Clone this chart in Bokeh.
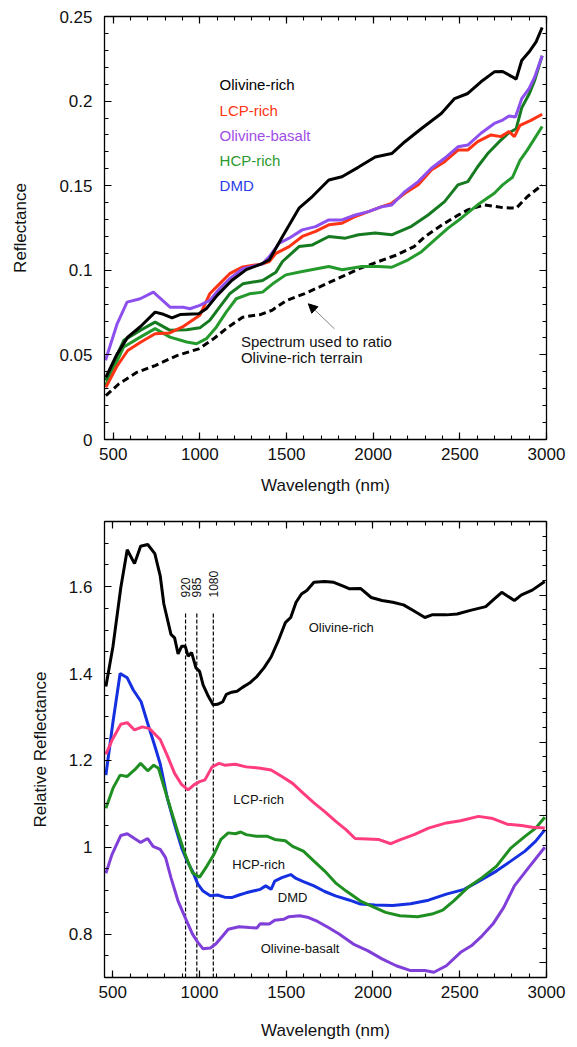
from bokeh.plotting import figure
from bokeh.layouts import column
from bokeh.models import (Range1d, LinearAxis, SingleIntervalTicker, CustomJSTickFormatter,
                          Arrow, NormalHead)
from bokeh.core.properties import value
from bokeh.embed import file_html
from bokeh.resources import INLINE
import math

FONT = "Liberation Sans"

# ---------------- Top panel data (reflectance) ----------------
oliv_rich_wl = [458, 520, 584, 658, 742, 790, 840, 889, 994, 1037, 1100, 1184, 1268, 1352, 1401, 1477,
                1572, 1649, 1744, 1820, 1916, 2012, 2107, 2183, 2279, 2393, 2470, 2546, 2622, 2699,
                2747, 2800, 2825, 2857, 2899, 2940, 2975]
oliv_rich_r = [0.0368, 0.050, 0.0605, 0.0668, 0.0753, 0.074, 0.0719, 0.0739, 0.0743, 0.0773, 0.0852,
               0.094, 0.1004, 0.1036, 0.1062, 0.120, 0.1367, 0.1436, 0.1534, 0.1553, 0.161, 0.167,
               0.169, 0.176, 0.1838, 0.1927, 0.2015, 0.2045, 0.2114, 0.2173, 0.2175, 0.2145, 0.213,
               0.224, 0.229, 0.235, 0.2435]

lcp_wl = [458, 520, 584, 658, 742, 826, 900, 942, 1000, 1057, 1114, 1172, 1248, 1362, 1401, 1439,
          1515, 1591, 1668, 1744, 1820, 1897, 1973, 2050, 2107, 2183, 2260, 2336, 2412, 2489, 2546,
          2603, 2680, 2737, 2784, 2815, 2847, 2910, 2975]
lcp_r = [0.0308, 0.043, 0.0526, 0.0575, 0.0625, 0.063, 0.0665, 0.0694, 0.0734, 0.0861, 0.092, 0.098,
         0.102, 0.1038, 0.1052, 0.110, 0.114, 0.12, 0.123, 0.1269, 0.1278, 0.1318, 0.1347, 0.1376,
         0.1396, 0.1455, 0.1505, 0.1593, 0.1642, 0.1711, 0.1711, 0.176, 0.18, 0.179, 0.182, 0.179,
         0.1857, 0.1886, 0.1922]

obas_wl = [456, 523, 580, 656, 732, 828, 904, 943, 1000, 1057, 1114, 1172, 1248, 1362, 1401, 1458,
           1515, 1591, 1668, 1744, 1820, 1897, 1973, 2050, 2107, 2183, 2260, 2336, 2412, 2489, 2546,
           2622, 2699, 2747, 2784, 2821, 2857, 2899, 2931, 2975]
obas_r = [0.0468, 0.0684, 0.0812, 0.0832, 0.0871, 0.0782, 0.0782, 0.0773, 0.0793, 0.0822, 0.0891,
          0.095, 0.1009, 0.1038, 0.1081, 0.116, 0.119, 0.1239, 0.1258, 0.1298, 0.1298, 0.1327,
          0.1347, 0.1376, 0.1386, 0.1465, 0.1524, 0.1603, 0.1662, 0.173, 0.174, 0.181, 0.1868,
          0.1888, 0.1912, 0.1906, 0.2014, 0.2073, 0.214, 0.2268]

hcp_wl = [456, 561, 656, 742, 828, 924, 1000, 1057, 1114, 1172, 1248, 1362, 1439, 1477, 1572, 1649,
          1744, 1840, 1916, 2012, 2107, 2221, 2317, 2412, 2489, 2546, 2603, 2661, 2737, 2780, 2825,
          2857, 2899, 2931, 2975]
hcp_r = [0.035, 0.0586, 0.0645, 0.0694, 0.0645, 0.0649, 0.066, 0.0704, 0.0782, 0.0861, 0.092, 0.094,
         0.0989, 0.1052, 0.114, 0.115, 0.12, 0.119, 0.121, 0.122, 0.121, 0.126, 0.1327, 0.1406,
         0.1505, 0.1524, 0.1612, 0.169, 0.177, 0.181, 0.1837, 0.196, 0.204, 0.212, 0.2268]

dmd_wl = [456, 561, 656, 742, 828, 924, 981, 1038, 1095, 1152, 1210, 1286, 1362, 1420, 1496, 1591,
          1744, 1821, 1935, 2031, 2107, 2202, 2279, 2355, 2432, 2508, 2603, 2699, 2747, 2804, 2847,
          2889, 2975]
dmd_r = [0.032, 0.0547, 0.0605, 0.0655, 0.0605, 0.0576, 0.0566, 0.0596, 0.0664, 0.0753, 0.0832,
         0.0861, 0.0871, 0.092, 0.0973, 0.0993, 0.1022, 0.1003, 0.1022, 0.1022, 0.1018, 0.1062,
         0.111, 0.118, 0.1249, 0.1308, 0.1387, 0.1455, 0.1505, 0.155, 0.165, 0.171, 0.185]

ratio_wl = [458, 532, 637, 742, 868, 994, 1079, 1163, 1247, 1352, 1415, 1500, 1605, 1710, 1836, 1920,
            2026, 2131, 2236, 2300, 2400, 2480, 2546, 2642, 2750, 2825, 2889, 2975]
ratio_r = [0.0259, 0.0328, 0.0397, 0.0437, 0.0496, 0.0536, 0.0595, 0.0664, 0.0723, 0.0739, 0.0763,
           0.0822, 0.0862, 0.0911, 0.097, 0.101, 0.105, 0.1089, 0.114, 0.12, 0.127, 0.132, 0.1357,
           0.1387, 0.137, 0.1367, 0.1435, 0.1504]

top_names = ["Olivine-rich", "LCP-rich", "Olivine-basalt", "HCP-rich", "DMD"]
top_note = ["Spectrum used to ratio", "Olivine-rich terrain"]

# ---------------- Bottom panel data (relative reflectance) ----------------
b_oliv_wl = [461, 502, 547, 584, 626, 661, 702, 743, 774, 795, 836, 857, 877, 898, 918, 935, 955, 980,
             1001, 1021, 1052, 1079, 1104, 1135, 1155, 1186, 1217, 1248, 1289, 1331, 1372, 1413, 1454,
             1495, 1526, 1557, 1588, 1619, 1660, 1722, 1774, 1825, 1866, 1928, 1990, 2052, 2114, 2176,
             2237, 2299, 2340, 2423, 2485, 2567, 2650, 2680, 2742, 2815, 2856, 2918, 2990]
b_oliv_r = [1.370, 1.463, 1.598, 1.685, 1.653, 1.693, 1.697, 1.676, 1.625, 1.560, 1.490, 1.482, 1.445,
            1.463, 1.463, 1.440, 1.448, 1.413, 1.405, 1.374, 1.347, 1.328, 1.329, 1.335, 1.352, 1.357,
            1.359, 1.368, 1.378, 1.393, 1.413, 1.438, 1.475, 1.517, 1.529, 1.564, 1.583, 1.591, 1.610,
            1.612, 1.610, 1.602, 1.595, 1.596, 1.575, 1.568, 1.564, 1.558, 1.544, 1.529, 1.535, 1.535,
            1.537, 1.546, 1.554, 1.565, 1.587, 1.568, 1.581, 1.592, 1.612]

b_dmd_wl = [461, 502, 543, 584, 619, 664, 702, 743, 774, 815, 857, 898, 929, 960, 991, 1021, 1063, 1104,
            1145, 1186, 1228, 1269, 1310, 1351, 1382, 1413, 1434, 1475, 1526, 1557, 1599, 1660, 1722,
            1784, 1866, 1928, 2011, 2114, 2217, 2320, 2423, 2526, 2629, 2711, 2794, 2876, 2938, 2990]
b_dmd_r = [1.166, 1.289, 1.400, 1.390, 1.362, 1.335, 1.285, 1.233, 1.192, 1.113, 1.052, 0.998, 0.968,
           0.945, 0.915, 0.899, 0.888, 0.890, 0.885, 0.884, 0.890, 0.895, 0.899, 0.903, 0.911, 0.903,
           0.922, 0.930, 0.937, 0.928, 0.921, 0.911, 0.898, 0.888, 0.878, 0.869, 0.867, 0.866, 0.870,
           0.878, 0.892, 0.903, 0.926, 0.945, 0.968, 0.991, 1.014, 1.040]

b_lcp_wl = [461, 496, 547, 584, 626, 671, 712, 774, 815, 857, 898, 935, 970, 1001, 1032, 1073, 1114,
            1145, 1207, 1269, 1351, 1413, 1475, 1537, 1599, 1660, 1722, 1784, 1846, 1897, 1969, 2031,
            2103, 2155, 2237, 2320, 2423, 2505, 2608, 2691, 2773, 2856, 2918, 2990]
b_lcp_r = [1.214, 1.246, 1.283, 1.287, 1.270, 1.277, 1.273, 1.248, 1.211, 1.170, 1.144, 1.132, 1.144,
           1.151, 1.155, 1.185, 1.193, 1.189, 1.191, 1.185, 1.182, 1.178, 1.163, 1.147, 1.124, 1.102,
           1.082, 1.060, 1.040, 1.020, 1.019, 1.018, 1.008, 1.017, 1.029, 1.044, 1.056, 1.061, 1.071,
           1.066, 1.053, 1.050, 1.046, 1.044]

b_hcp_wl = [461, 502, 543, 584, 626, 661, 702, 737, 764, 795, 836, 877, 918, 960, 1001, 1042, 1083,
            1124, 1166, 1207, 1238, 1269, 1331, 1392, 1434, 1495, 1537, 1599, 1660, 1722, 1784, 1846,
            1928, 2011, 2073, 2155, 2258, 2340, 2402, 2464, 2546, 2629, 2711, 2794, 2876, 2938, 2990]
b_hcp_r = [1.090, 1.136, 1.166, 1.163, 1.178, 1.193, 1.176, 1.189, 1.182, 1.140, 1.086, 1.033, 0.983,
           0.941, 0.931, 0.956, 0.983, 1.018, 1.033, 1.031, 1.035, 1.029, 1.025, 1.025, 1.018, 1.015,
           1.002, 0.991, 0.968, 0.945, 0.918, 0.899, 0.876, 0.861, 0.850, 0.842, 0.840, 0.846, 0.855,
           0.876, 0.907, 0.930, 0.956, 0.998, 1.025, 1.044, 1.069]

b_obas_wl = [461, 496, 547, 584, 626, 661, 702, 733, 774, 805, 836, 877, 918, 960, 991, 1021, 1063, 1094,
             1135, 1166, 1228, 1289, 1331, 1351, 1402, 1434, 1485, 1516, 1578, 1629, 1681, 1743, 1805,
             1887, 1969, 2052, 2134, 2217, 2299, 2351, 2423, 2505, 2567, 2629, 2691, 2753, 2815, 2897,
             2990]
b_obas_r = [0.940, 0.983, 1.027, 1.031, 1.020, 1.011, 1.020, 1.002, 0.995, 0.976, 0.930, 0.876, 0.838,
            0.800, 0.781, 0.766, 0.768, 0.777, 0.796, 0.811, 0.817, 0.815, 0.814, 0.824, 0.823, 0.832,
            0.834, 0.840, 0.842, 0.838, 0.829, 0.815, 0.800, 0.777, 0.762, 0.743, 0.727, 0.716, 0.716,
            0.712, 0.727, 0.758, 0.773, 0.796, 0.823, 0.861, 0.911, 0.953, 1.000]

band_wl = [920, 985, 1080]
band_labels = ["920", "985", "1080"]
bottom_names = ["Olivine-rich", "LCP-rich", "HCP-rich", "DMD", "Olivine-basalt"]

fmt = CustomJSTickFormatter(code="return String(Math.round(tick*1000)/1000);")


def style_axis(ax, labels=True):
    ax.major_tick_in = 7
    ax.major_tick_out = 0
    ax.minor_tick_in = 4
    ax.minor_tick_out = 0
    ax.axis_line_color = "black"
    ax.axis_line_width = 1.3
    ax.major_tick_line_color = "black"
    ax.minor_tick_line_color = "black"
    ax.major_tick_line_width = 1.2
    ax.minor_tick_line_width = 1.1
    ax.major_label_text_font = FONT
    ax.axis_label_text_font = FONT
    ax.axis_label_text_font_style = "normal"
    ax.axis_label_text_color = "#111111"
    if labels:
        ax.major_label_text_color = "#111111"
        ax.major_label_text_font_size = "17px"
        ax.axis_label_text_font_size = "17px"
    else:
        # tick marks only: labels are not drawn at all
        ax.major_label_text_color = None
        ax.major_label_text_font_size = "1px"
        ax.major_label_standoff = 0


# ---------------- Top figure ----------------
p1 = figure(width=577, height=508, output_backend="svg", toolbar_location=None,
            x_range=Range1d(450, 3000), y_range=Range1d(0, 0.25),
            min_border_left=104, min_border_right=28, min_border_top=16, min_border_bottom=69)
p1.grid.visible = False
p1.outline_line_color = "black"
p1.background_fill_color = "white"
p1.border_fill_color = "white"

p1.xaxis.ticker = SingleIntervalTicker(interval=500, num_minor_ticks=5)
p1.yaxis.ticker = SingleIntervalTicker(interval=0.05, num_minor_ticks=5)
p1.yaxis.formatter = fmt
p1.xaxis.axis_label = "Wavelength (nm)"
p1.yaxis.axis_label = "Reflectance"
style_axis(p1.xaxis[0])
style_axis(p1.yaxis[0])
p1.xaxis.major_label_standoff = 8
p1.xaxis.axis_label_standoff = 13
p1.yaxis.major_label_standoff = 12
p1.yaxis.axis_label_standoff = 26

ax_top = LinearAxis(ticker=SingleIntervalTicker(interval=500, num_minor_ticks=5))
ax_right = LinearAxis(ticker=SingleIntervalTicker(interval=0.05, num_minor_ticks=5))
style_axis(ax_top, labels=False)
style_axis(ax_right, labels=False)
p1.add_layout(ax_top, "above")
p1.add_layout(ax_right, "right")

LW = 3
p1.line(ratio_wl, ratio_r, line_color="black", line_width=LW, line_dash="7 4")
p1.line(dmd_wl, dmd_r, line_color="#259a2c", line_width=LW)
p1.line(hcp_wl, hcp_r, line_color="#157a20", line_width=LW)
p1.line(lcp_wl, lcp_r, line_color="#ff3414", line_width=LW)
p1.line(obas_wl, obas_r, line_color="#8d50ee", line_width=LW)
p1.line(oliv_rich_wl, oliv_rich_r, line_color="black", line_width=LW)

# legend-like labels
top_label_colors = ["black", "#ff3414", "#a04ee8", "#2b9a2e", "#2a3de8"]
top_label_y = [0.2098, 0.1945, 0.1798, 0.1651, 0.150]
p1.text(x=[1114] * 5, y=top_label_y, text=top_names, text_color=top_label_colors,
        text_font=value(FONT), text_font_size="15px", text_baseline="middle", text_align="left")

p1.text(x=[1237, 1237], y=[0.0578, 0.0485], text=top_note, text_color="#111111",
        text_font=value(FONT), text_font_size="15px", text_baseline="middle", text_align="left")
p1.add_layout(Arrow(end=NormalHead(size=9, fill_color="black", line_color="black"),
                    x_start=1777, y_start=0.0654, x_end=1626, y_end=0.0802,
                    line_color="#777777", line_width=0.9))

# ---------------- Bottom figure ----------------
p2 = figure(width=577, height=539, output_backend="svg", toolbar_location=None,
            x_range=Range1d(453, 3000), y_range=Range1d(0.7, 1.75),
            min_border_left=91, min_border_right=31, min_border_top=13, min_border_bottom=70)
p2.grid.visible = False
p2.outline_line_color = "black"
p2.extra_y_ranges = {"r": Range1d(-0.2, 6.0)}

p2.xaxis.ticker = SingleIntervalTicker(interval=500, num_minor_ticks=5)
p2.yaxis.ticker = SingleIntervalTicker(interval=0.2, num_minor_ticks=4)
p2.yaxis.formatter = fmt
p2.xaxis.axis_label = "Wavelength (nm)"
p2.yaxis.axis_label = "Relative Reflectance"
style_axis(p2.xaxis[0])
style_axis(p2.yaxis[0])
p2.xaxis.major_label_standoff = 8
p2.xaxis.axis_label_standoff = 20
p2.yaxis.major_label_standoff = 12
p2.yaxis.axis_label_standoff = 16

ax2_top = LinearAxis(ticker=SingleIntervalTicker(interval=500, num_minor_ticks=5))
ax2_right = LinearAxis(y_range_name="r", ticker=SingleIntervalTicker(interval=1, num_minor_ticks=5))
style_axis(ax2_top, labels=False)
style_axis(ax2_right, labels=False)
p2.add_layout(ax2_top, "above")
p2.add_layout(ax2_right, "right")

p2.segment(x0=band_wl, y0=[0.7] * 3, x1=band_wl, y1=[1.538] * 3,
           line_color="black", line_width=1.2, line_dash="4 2")
p2.text(x=band_wl, y=[1.575] * 3, text=band_labels, angle=math.pi / 2,
        text_font=value(FONT), text_font_size="12px", text_baseline="middle", text_align="left",
        text_color="#111111")

p2.line(b_obas_wl, b_obas_r, line_color="#7f3fd8", line_width=LW)
p2.line(b_dmd_wl, b_dmd_r, line_color="#1530e0", line_width=LW)
p2.line(b_hcp_wl, b_hcp_r, line_color="#1f8f22", line_width=LW)
p2.line(b_lcp_wl, b_lcp_r, line_color="#ff3c7d", line_width=LW)
p2.line(b_oliv_wl, b_oliv_r, line_color="black", line_width=LW)

b_label_x = [1817, 1341, 1341, 1537, 1580]
b_label_y = [1.506, 1.109, 0.960, 0.885, 0.766]
p2.text(x=b_label_x, y=b_label_y, text=bottom_names, text_color="#111111",
        text_font=value(FONT), text_font_size="13px", text_baseline="middle", text_align="center")

layout = column(p1, p2, spacing=0)
open("out.html", "w").write(file_html(layout, INLINE))
